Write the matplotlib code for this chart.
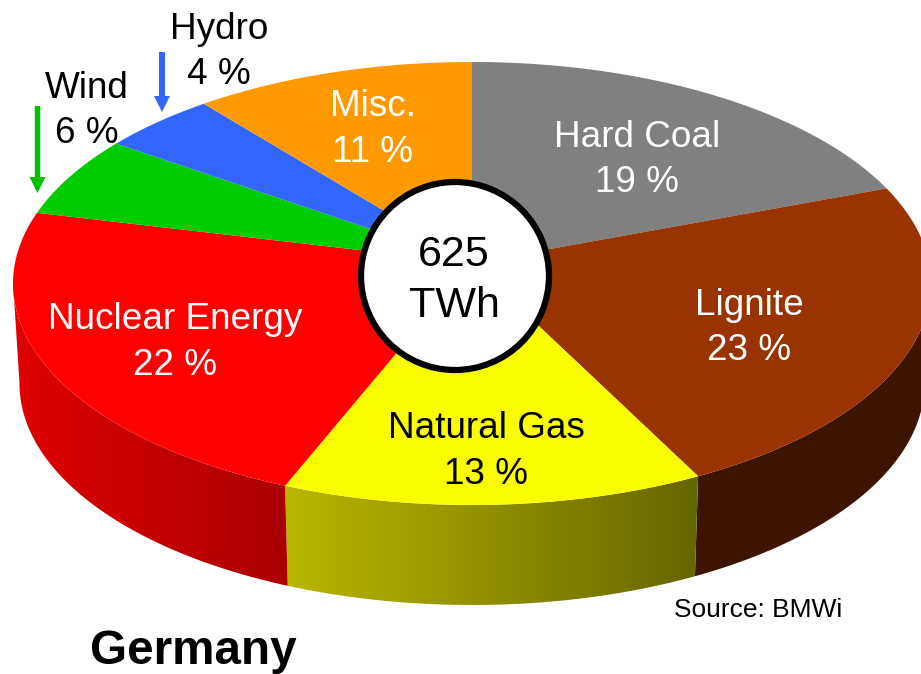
import numpy as np
import matplotlib
matplotlib.use('Agg')
import matplotlib.pyplot as plt
from matplotlib.colors import to_rgb
from matplotlib.patches import Circle, FancyArrow, Polygon

plt.rcParams['font.family'] = ['Liberation Sans', 'DejaVu Sans']

# --- data, clockwise from 12 o'clock ---
categories = ['Hard Coal', 'Lignite', 'Natural Gas', 'Nuclear Energy', 'Wind', 'Hydro', 'Misc.']
labels_pct = [19, 23, 13, 22, 6, 4, 11]
# slice sizes as measured on the picture (the printed labels do not add up to 100)
slice_sizes = [19.3, 23.2, 13.6, 22.65, 5.95, 4.47, 10.83]
total_label = ['625', 'TWh']

top_colors = ['#808080', '#993300', '#fcfc00', '#ff0000', '#00cc00', '#3366ff', '#ff9900']
text_colors = ['white', 'white', 'black', 'white', 'black', 'black', 'white']
# side wall colour at the left and right end of each slice (only the front ones show)
side_colors = {'Lignite': ('#3e1400', '#3e1400'),
               'Natural Gas': ('#b8b800', '#666600'),
               'Nuclear Energy': ('#e00000', '#aa0000')}

# label anchors in pixels: x centre, baseline of first line, baseline of second line
label_pos = {'Hard Coal': (637, 147, 192), 'Lignite': (749, 315, 360),
             'Natural Gas': (486, 438, 484), 'Nuclear Energy': (175, 329, 375),
             'Wind': (87, 98, 143), 'Hydro': (219, 39, 84), 'Misc.': (373, 116, 162)}

# pie geometry, seen in perspective
CX, CY = 472, 263
A, B, K = 457, 219.6, 0.0925
DEPTH = 100
BOTTOM_SCALE = 0.986
# rim angles where the wall turns away from the viewer
WALL_FROM, WALL_TO = 95, 265


def rim(t):
    """Project a point of the pie rim (t in degrees, clockwise from the top)"""
    t = np.radians(t)
    w = 1 + K * np.cos(t)
    return CX + A * np.sin(t) / w, CY - B * np.cos(t) / w


fig = plt.figure(figsize=(9.21, 6.74), dpi=100)
ax = fig.add_axes([0, 0, 1, 1])
ax.axis('off')

edges = np.concatenate([[0], np.cumsum(slice_sizes)]) / np.sum(slice_sizes) * 360

# side walls first, a horizontal gradient clipped to each wall
for i, name in enumerate(categories):
    if name not in side_colors:
        continue
    ts = np.linspace(max(edges[i], WALL_FROM), min(edges[i + 1], WALL_TO), 200)
    xs, ys = rim(ts)
    xb = CX + (xs - CX) * BOTTOM_SCALE
    yb = ys + DEPTH
    pts = np.column_stack([np.r_[xs, xb[::-1]], np.r_[ys, yb[::-1]]])
    wall = Polygon(pts, closed=True, facecolor='none', edgecolor='none', transform=ax.transData)
    ax.add_patch(wall)
    c0, c1 = np.array(to_rgb(side_colors[name][0])), np.array(to_rgb(side_colors[name][1]))
    grad = np.linspace(0, 1, 256)[None, :, None] * (c1 - c0) + c0
    x0, x1 = pts[:, 0].min(), pts[:, 0].max()
    im = ax.imshow(grad, extent=[x0, x1, pts[:, 1].max(), pts[:, 1].min()], aspect='auto',
                   interpolation='bilinear', zorder=1)
    im.set_clip_path(wall)

ax.set_xlim(0, 921)
ax.set_ylim(674, 0)

# top face
for i, name in enumerate(categories):
    xs, ys = rim(np.linspace(edges[i], edges[i + 1], 200))
    pts = np.column_stack([np.r_[CX, xs], np.r_[CY, ys]])
    ax.add_patch(Polygon(pts, closed=True, facecolor=top_colors[i], edgecolor='none', zorder=2))

# centre disc
ax.add_patch(Circle((455, 276), 94, facecolor='white', edgecolor='black', lw=4.5, zorder=3))
ax.text(454, 266, total_label[0], fontsize=31, ha='center', va='baseline', zorder=4)
ax.text(454, 317, total_label[1], fontsize=31, ha='center', va='baseline', zorder=4)

# slice labels
for i, name in enumerate(categories):
    x, y1, y2 = label_pos[name]
    ax.text(x, y1, name, color=text_colors[i], fontsize=26.6, ha='center', va='baseline', zorder=4)
    ax.text(x, y2, f'{labels_pct[i]} %', color=text_colors[i], fontsize=26.6, ha='center', va='baseline', zorder=4)

# arrows to the small slices
ax.add_patch(FancyArrow(162, 52, 0, 60, width=6, head_width=16, head_length=16,
                        length_includes_head=True, color='#3366ff', lw=0, zorder=4))
ax.add_patch(FancyArrow(37.5, 106, 0, 87, width=5.5, head_width=16, head_length=16,
                        length_includes_head=True, color='#00c000', lw=0, zorder=4))

ax.text(674, 617, 'Source: BMWi', fontsize=19, ha='left', va='baseline')
ax.text(90, 664, 'Germany', fontsize=34.3, fontweight='bold', ha='left', va='baseline')

plt.savefig('out.png', dpi=100)
